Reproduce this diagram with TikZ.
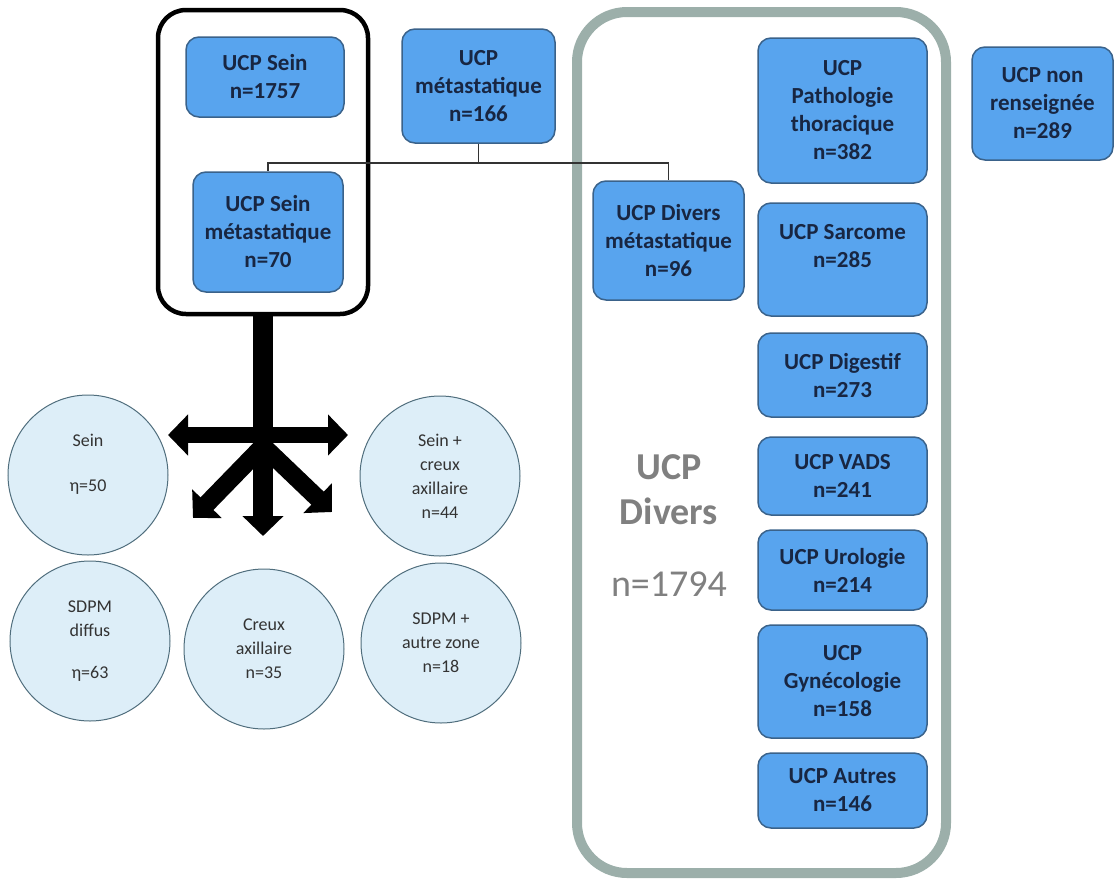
\documentclass[tikz,border=0pt]{standalone}
\usepackage{fontspec}
\setmainfont{Carlito}
\usepackage{tikz}
\usetikzlibrary{arrows.meta}
\definecolor{ucpfill}{RGB}{88,164,238}
\definecolor{ucpline}{RGB}{58,98,138}
\definecolor{ucptext}{RGB}{24,38,66}
\definecolor{zonefill}{RGB}{221,238,248}
\definecolor{zoneline}{RGB}{80,110,125}
\definecolor{diversgray}{RGB}{156,175,170}
\definecolor{titlegray}{RGB}{128,128,128}
\tikzset {
  % blue UCP boxes
  ucp/.style={draw=ucpline, fill=ucpfill, line width=1.5pt, rounded corners=13pt,
    align=center, text=ucptext, font=\fontsize{23}{28}\selectfont\bfseries, inner sep=2pt},
  % light blue circles of the zones
  zone/.style={draw=zoneline, fill=zonefill, line width=1pt, circle, minimum size=160pt,
    inner sep=0pt, align=center, text=black!80, font=\fontsize{18}{24}\selectfont},
  % frames round groups of boxes
  blackframe/.style={draw=black, line width=4.5pt, rounded corners=28pt},
  grayframe/.style={draw=diversgray, line width=10pt, rounded corners=50pt},
  % big black arrows
  bigtip/.tip={Triangle[width=40pt,length=20pt]},
  bigarrow/.style={draw=black, line width=20pt, -bigtip},
  link/.style={draw=black!80, line width=1.5pt},
}

\begin{document}
\begin{tikzpicture}[x=1pt, y=-1pt]
  \useasboundingbox (0,0) rectangle (1114,879);

  \node[grayframe, minimum width=369pt, minimum height=861pt] (diversgroup) at (761.5,442.5) {};
  \node[blackframe, minimum width=210pt, minimum height=304pt] (seingroup) at (263,162) {};

  \node[ucp, minimum width=158pt, minimum height=80pt] (sein) at (265,77) {UCP Sein\\n=1757};
  \node[ucp, minimum width=153pt, minimum height=114pt] (meta) at (478.5,86) {UCP\\métastatique\\n=166};
  \node[ucp, minimum width=150pt, minimum height=120pt] (seinmeta) at (268,232) {UCP Sein\\métastatique\\n=70};
  \node[ucp, minimum width=151pt, minimum height=119pt] (diversmeta) at (668.5,240.5) {UCP Divers\\métastatique\\n=96};
  \node[ucp, minimum width=141pt, minimum height=113pt] (nonrens) at (1042.5,103.5) {UCP non\\renseignée\\n=289};

  \node[ucp, minimum width=169pt, minimum height=145pt] (thorax) at (842.5,110.5) {UCP\\Pathologie\\thoracique\\n=382};
  \node[ucp, minimum width=169pt, minimum height=113pt] (sarcome) at (842.5,259.5) {UCP Sarcome\\n=285\\\mbox{}};
  \node[ucp, minimum width=169pt, minimum height=84pt] (digestif) at (842.5,375) {UCP Digestif\\n=273};
  \node[ucp, minimum width=169pt, minimum height=78pt] (vads) at (842.5,476) {UCP VADS\\n=241};
  \node[ucp, minimum width=169pt, minimum height=80pt] (urologie) at (842.5,570) {UCP Urologie\\n=214};
  \node[ucp, minimum width=169pt, minimum height=113pt] (gyneco) at (842.5,681.5) {UCP\\Gynécologie\\n=158};
  \node[ucp, minimum width=169pt, minimum height=75pt] (autres) at (842.5,790.5) {UCP Autres\\n=146};

  \node[text=titlegray, align=center, font=\fontsize{38}{45}\selectfont\bfseries] (diverslabel)
    at (669,526) {UCP\\Divers\\[27pt]{\mdseries n=1794}};

  \draw[link] (meta.south) -- ++(0,19) coordinate (split) -| (seinmeta.north);
  \draw[link] (split) -| (diversmeta.north);

  \node[zone] (sein50) at (88,475) {Sein\\[21pt]η=50\\\mbox{}};
  \node[zone] (seincreux) at (440,476) {Sein +\\creux\\axillaire\\n=44};
  \node[zone] (sdpm) at (90,641) {SDPM\\diffus\\[18pt]η=63};
  \node[zone] (creux) at (264,649) {Creux\\axillaire\\n=35};
  \node[zone] (sdpmautre) at (441,643) {SDPM +\\autre zone\\n=18};

  \coordinate (hub) at (263,446);
  \coordinate (tipS) at (263,536);
  \coordinate (tipW) at (168,435);
  \coordinate (tipE) at (348,435);
  \coordinate (tipSW) at (193,518);
  \coordinate (tipSE) at (332,512);
  \draw[bigarrow] (seingroup.south) -- (tipS);
  \draw[bigarrow, bigtip-bigtip, line width=16pt] (tipW) -- (tipE);
  \draw[bigarrow, line width=18pt] (hub) -- (tipSW);
  \draw[bigarrow, line width=18pt] (hub) -- (tipSE);
\end{tikzpicture}
\end{document}
